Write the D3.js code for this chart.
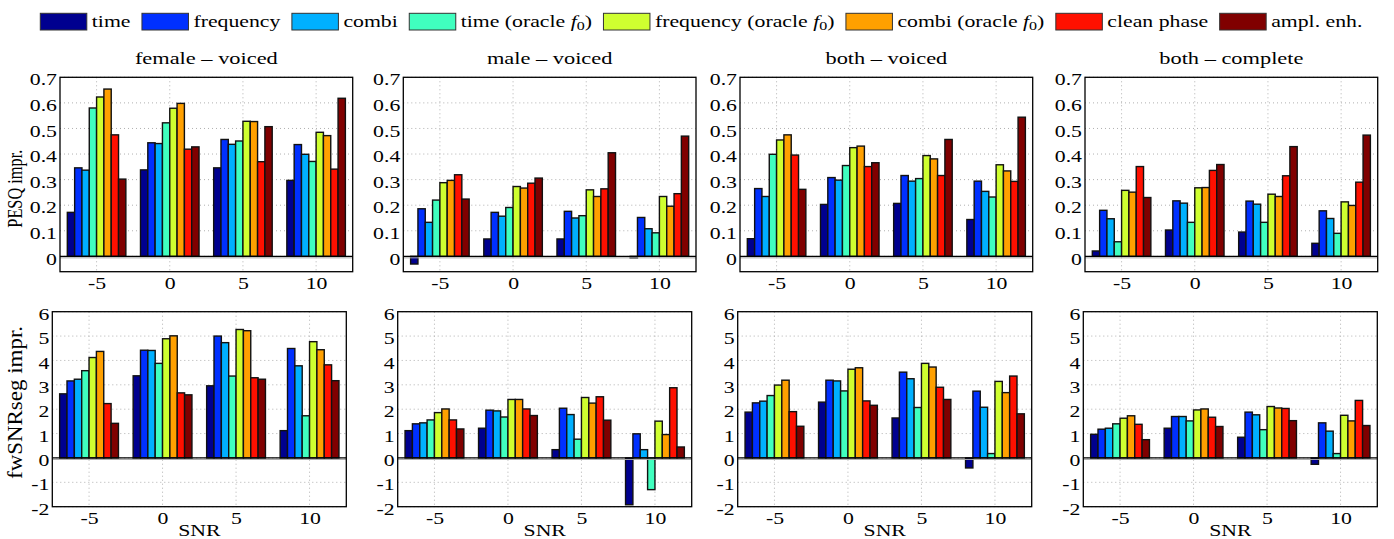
<!DOCTYPE html>
<html>
<head>
<meta charset="utf-8">
<script src="https://cdn.jsdelivr.net/npm/d3@7"></script>
<style>
    body { margin: 0; background: #fff; }
    text { font-family: "Liberation Serif", "Times New Roman", serif; fill: #000; }
</style>
</head>
<body>
<svg id="chart" width="1394" height="539"></svg>
<script>
const methods = ["time", "frequency", "combi", "time (oracle f0)", "frequency (oracle f0)",
    "combi (oracle f0)", "clean phase", "ampl. enh."]
const methodColors = ["#00008f", "#0030ff", "#00b0ff", "#40ffbf", "#cfff30", "#ffa000", "#ff1000", "#800000"]
const snrLevels = [-5, 0, 5, 10]
const panelTitles = ["female \u2013 voiced", "male \u2013 voiced", "both \u2013 voiced", "both \u2013 complete"]
const pesqTicks = [0, 0.1, 0.2, 0.3, 0.4, 0.5, 0.6, 0.7]
const fwsnrTicks = [-2, -1, 0, 1, 2, 3, 4, 5, 6]

// PESQ improvement, one row per SNR (-5, 0, 5, 10), one value per method
const pesqFemaleVoiced = [
    [0.172, 0.346, 0.337, 0.580, 0.623, 0.654, 0.475, 0.302],
    [0.338, 0.444, 0.441, 0.522, 0.579, 0.598, 0.419, 0.428],
    [0.346, 0.457, 0.438, 0.451, 0.528, 0.527, 0.370, 0.507],
    [0.297, 0.437, 0.399, 0.371, 0.485, 0.472, 0.341, 0.618]]
const pesqMaleVoiced = [
    [-0.030, 0.186, 0.133, 0.220, 0.288, 0.297, 0.319, 0.224],
    [0.068, 0.172, 0.157, 0.191, 0.273, 0.267, 0.286, 0.306],
    [0.068, 0.176, 0.150, 0.159, 0.260, 0.234, 0.264, 0.405],
    [-0.006, 0.152, 0.108, 0.092, 0.234, 0.196, 0.245, 0.470]]
const pesqBothVoiced = [
    [0.069, 0.265, 0.234, 0.399, 0.455, 0.475, 0.396, 0.262],
    [0.203, 0.308, 0.298, 0.355, 0.425, 0.431, 0.351, 0.366],
    [0.207, 0.316, 0.294, 0.304, 0.394, 0.381, 0.316, 0.457],
    [0.144, 0.294, 0.254, 0.232, 0.358, 0.334, 0.293, 0.544]]
const pesqBothComplete = [
    [0.021, 0.180, 0.147, 0.057, 0.258, 0.251, 0.351, 0.230],
    [0.103, 0.217, 0.208, 0.133, 0.268, 0.269, 0.336, 0.359],
    [0.095, 0.216, 0.204, 0.133, 0.243, 0.234, 0.315, 0.429],
    [0.051, 0.178, 0.148, 0.090, 0.213, 0.199, 0.290, 0.474]]

// fwSNRseg improvement
const fwsnrFemaleVoiced = [
    [2.63, 3.16, 3.23, 3.58, 4.12, 4.37, 2.23, 1.42],
    [3.37, 4.42, 4.41, 3.88, 4.89, 5.01, 2.67, 2.59],
    [2.96, 5.00, 4.73, 3.36, 5.27, 5.22, 3.29, 3.23],
    [1.12, 4.49, 3.78, 1.73, 4.77, 4.44, 3.82, 3.17]]
const fwsnrMaleVoiced = [
    [1.12, 1.40, 1.44, 1.56, 1.86, 2.01, 1.56, 1.19],
    [1.22, 1.96, 1.93, 1.68, 2.40, 2.40, 2.01, 1.74],
    [0.34, 2.04, 1.78, 0.77, 2.48, 2.25, 2.51, 1.55],
    [-1.92, 0.99, 0.34, -1.30, 1.51, 0.96, 2.88, 0.45]]
const fwsnrBothVoiced = [
    [1.88, 2.26, 2.33, 2.56, 2.99, 3.19, 1.90, 1.30],
    [2.29, 3.19, 3.16, 2.75, 3.64, 3.70, 2.34, 2.16],
    [1.64, 3.52, 3.25, 2.07, 3.88, 3.73, 2.90, 2.40],
    [-0.41, 2.74, 2.08, 0.18, 3.14, 2.68, 3.36, 1.81]]
const fwsnrBothComplete = [
    [0.97, 1.18, 1.22, 1.40, 1.63, 1.73, 1.38, 0.75],
    [1.22, 1.70, 1.70, 1.52, 1.97, 2.01, 1.67, 1.29],
    [0.85, 1.88, 1.77, 1.16, 2.11, 2.05, 2.03, 1.53],
    [-0.26, 1.44, 1.10, 0.18, 1.75, 1.52, 2.36, 1.33]]

// the original figure is stretched horizontally, so text is too
const SX = 1.28
const FONT = 17

const svg = d3.select("#chart")

function place(sel, x, y, sx = SX) {
    return sel.attr("transform", "translate(" + x + "," + y + ") scale(" + sx + ",1)")
}

function drawPanel(box, data, yDomain, yTicks) {
    const g = svg.append("g").attr("transform", "translate(" + box.left + "," + box.top + ")")
    const w = box.width, h = box.height

    const x = d3.scaleLinear().domain([-7.5, 12.5]).range([0, w])
    const y = d3.scaleLinear().domain(yDomain).range([h, 0])
    const inner = d3.scaleBand().domain(methods).range([x(-2) - x(0), x(2) - x(0)])

    // dotted grid
    const grid = g.append("g").attr("stroke", "#b0b0b0").attr("stroke-width", 1).attr("stroke-dasharray", "1,3")
    grid.selectAll("line.h").data(yTicks).enter().append("line")
        .attr("x1", 0).attr("x2", w).attr("y1", d => y(d)).attr("y2", d => y(d))
    grid.selectAll("line.v").data(snrLevels).enter().append("line")
        .attr("x1", d => x(d)).attr("x2", d => x(d)).attr("y1", 0).attr("y2", h)

    // bars
    const rows = []
    data.forEach((vals, i) => vals.forEach((v, j) => rows.push({snr: snrLevels[i], m: methods[j], c: methodColors[j], v: v})))
    g.append("g").selectAll("rect").data(rows).enter().append("rect")
        .attr("x", d => x(d.snr) + inner(d.m))
        .attr("width", inner.bandwidth())
        .attr("y", d => y(Math.max(0, d.v)))
        .attr("height", d => Math.abs(y(d.v) - y(0)))
        .attr("fill", d => d.c)
        .attr("stroke", "#111")
        .attr("stroke-width", 1.4)

    // zero line
    g.append("line").attr("x1", 0).attr("x2", w).attr("y1", y(0) + 1.5).attr("y2", y(0) + 1.5)
        .attr("stroke", "#aaa").attr("stroke-width", 1)
    g.append("line").attr("x1", 0).attr("x2", w).attr("y1", y(0)).attr("y2", y(0))
        .attr("stroke", "#000").attr("stroke-width", 1.2)

    // axes
    const ya = g.append("g")
        .call(d3.axisLeft(y).tickValues(yTicks).tickSize(0).tickPadding(0).tickFormat(d => String(d)))
    ya.select(".domain").remove()
    ya.attr("font-family", null).attr("font-size", FONT)
    ya.selectAll("text").attr("x", 0).attr("dy", "0.45em").attr("transform", "translate(-3,0) scale(" + SX + ",1)")

    const xa = g.append("g").attr("transform", "translate(0," + h + ")")
        .call(d3.axisBottom(x).tickValues(snrLevels).tickSize(0).tickPadding(0).tickFormat(d => String(d)))
    xa.select(".domain").remove()
    xa.attr("font-family", null).attr("font-size", FONT)
    xa.selectAll("text").attr("y", 0).attr("dy", null).attr("transform", "translate(0,17) scale(" + SX + ",1)")

    // box
    g.append("rect").attr("width", w).attr("height", h)
        .attr("fill", "none").attr("stroke", "#000").attr("stroke-width", 1.3)
    return g
}

const topBoxes = [60, 403.3, 740, 1085].map(l => ({left: l, top: 77.3, width: 292.7, height: 194.4}))
const bottomBoxes = [52.3, 397.7, 737.7, 1083.3].map(l => ({left: l, top: 311.7, width: 294, height: 195}))
const pesqPanels = [pesqFemaleVoiced, pesqMaleVoiced, pesqBothVoiced, pesqBothComplete]
const fwsnrPanels = [fwsnrFemaleVoiced, fwsnrMaleVoiced, fwsnrBothVoiced, fwsnrBothComplete]

pesqPanels.forEach((d, i) => drawPanel(topBoxes[i], d, [-0.06, 0.7], pesqTicks))
fwsnrPanels.forEach((d, i) => drawPanel(bottomBoxes[i], d, [-2, 6], fwsnrTicks))

// panel titles
topBoxes.forEach((b, i) => {
    place(svg.append("text"), b.left + b.width / 2, 64)
        .attr("text-anchor", "middle").attr("font-size", 17.5).text(panelTitles[i])
})

// SNR labels
bottomBoxes.forEach(b => {
    place(svg.append("text"), b.left + b.width / 2, 535.5)
        .attr("text-anchor", "middle").attr("font-size", FONT).text("SNR")
})

// y axis labels
svg.append("text")
    .attr("transform", "translate(22,188.7) scale(" + SX + ",1) rotate(-90)")
    .attr("text-anchor", "middle").attr("font-size", FONT)
    .attr("textLength", 78).attr("lengthAdjust", "spacingAndGlyphs")
    .text("PESQ impr.")
svg.append("text")
    .attr("transform", "translate(22,402.5) scale(" + SX + ",1) rotate(-90)")
    .attr("text-anchor", "middle").attr("font-size", FONT)
    .attr("textLength", 153).attr("lengthAdjust", "spacingAndGlyphs")
    .text("fwSNRseg impr.")

// legend
const legend = svg.append("g")
let lx = 40.3
methods.forEach((m, i) => {
    legend.append("rect").attr("x", lx).attr("y", 13.3).attr("width", 46.5).attr("height", 16.7)
        .attr("fill", methodColors[i]).attr("stroke", "#333").attr("stroke-width", 1)
    const t = place(legend.append("text"), lx + 51.5, 26.5).attr("font-size", FONT)
    const oracle = m.indexOf("(oracle f0)")
    if (oracle >= 0) {
        t.append("tspan").text(m.slice(0, oracle) + "(oracle ")
        t.append("tspan").attr("font-style", "italic").text("f")
        t.append("tspan").attr("font-size", 12.5).attr("dy", 3).text("0")
        t.append("tspan").attr("dy", -3).text(")")
    } else {
        t.text(m)
    }
    lx = lx + 51.5 + t.node().getComputedTextLength() * SX + 11.5
})
</script>
</body>
</html>
